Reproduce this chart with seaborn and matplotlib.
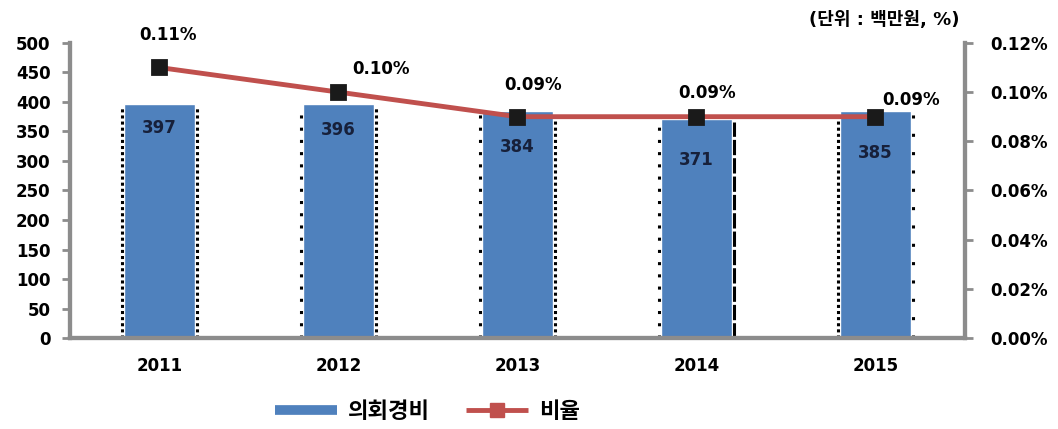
import pandas as pd
import numpy as np
import matplotlib
matplotlib.use('Agg')
import matplotlib.pyplot as plt
import seaborn as sns
from matplotlib.lines import Line2D

years = ['2011', '2012', '2013', '2014', '2015']
expense = [397, 396, 384, 371, 385]
ratio = [0.11, 0.10, 0.09, 0.09, 0.09]
ratio_labels = ['0.11%', '0.10%', '0.09%', '0.09%', '0.09%']

df = pd.DataFrame({'year': years, 'expense': expense, 'ratio': ratio})

sns.set_style('white')
plt.rcParams['font.family'] = ['DejaVu Sans', 'Noto Sans CJK KR']
plt.rcParams['font.weight'] = 'bold'
plt.rcParams['text.color'] = 'black'

bar_color = '#4f81bd'
line_color = '#c0504d'
axis_gray = '#8c8c8c'

fig = plt.figure(figsize=(10.58, 4.29), dpi=100)
ax = fig.add_axes([0.066, 0.212, 0.846, 0.688])

sns.barplot(data=df, x='year', y='expense', color=bar_color, width=0.4,
            saturation=1, ax=ax)
ax.set_xlim(-0.5, 4.5)
ax.set_ylim(0, 500)
ax.set_yticks(range(0, 501, 50))
ax.set_xlabel('')
ax.set_ylabel('')

# dotted bar sides (as in the source image)
side_styles = [((0, (1, 1)), (0, (1, 1))), ((0, (1, 3)), (0, (1, 1))),
               ((0, (1, 3)), (0, (1, 1))), ((0, (1, 3)), (0, (5, 1))),
               ((0, (1, 1)), (0, (1, 5)))]
for i, v in enumerate(expense):
    ls_l, ls_r = side_styles[i]
    ax.vlines(i - 0.21, 0, v - 5, colors='black', linestyles=[ls_l], lw=2.2)
    ax.vlines(i + 0.21, 0, v - 5, colors='black', linestyles=[ls_r], lw=2.2)

label_drop = [41, 44, 60, 69, 71]
for i, v in enumerate(expense):
    ax.text(i, v - label_drop[i], str(v), ha='center', va='center', fontsize=12,
            fontweight='bold', color='#17203a')

ax2 = ax.twinx()
sns.pointplot(data=df, x='year', y='ratio', color=line_color, markers='s',
              linestyles='-', ax=ax2)
for ln in ax2.lines:
    ln.set_linewidth(3.5)
    ln.set_markersize(10)
    ln.set_markerfacecolor('#1a1a1a')
    ln.set_markeredgecolor('#1a1a1a')
ax2.set_ylim(0, 0.12)
ax2.set_yticks(np.arange(0, 0.121, 0.02))
ax2.set_yticklabels([f'{t:.2f}%' for t in np.arange(0, 0.121, 0.02)])
ax2.set_ylabel('')
ax2.set_xlim(-0.5, 4.5)

offsets = [(0.047, 0.0133), (0.24, 0.0094), (0.09, 0.0129),
           (0.06, 0.0097), (0.20, 0.0068)]
for i, (r, lab) in enumerate(zip(ratio, ratio_labels)):
    dx, dy = offsets[i]
    ax2.text(i + dx, r + dy, lab, ha='center', va='center', fontsize=12,
             fontweight='bold', color='black')

for a in (ax, ax2):
    a.spines['top'].set_visible(False)
    for s in ('left', 'right', 'bottom'):
        a.spines[s].set_color(axis_gray)
        a.spines[s].set_linewidth(3)
ax.tick_params(axis='y', colors=axis_gray, length=6, width=2, pad=8,
               labelcolor='black', labelsize=12)
ax2.tick_params(axis='y', colors=axis_gray, length=6, width=2, pad=12,
                labelcolor='black', labelsize=12)

ax.set_xticks([i - 0.5 for i in range(6)], minor=True)
ax.tick_params(axis='x', which='major', length=0, labelsize=12, pad=14,
               labelcolor='black')
ax.tick_params(axis='x', which='minor', length=6, width=2, color=axis_gray)
for lab in ax.get_xticklabels() + ax.get_yticklabels() + ax2.get_yticklabels():
    lab.set_fontweight('bold')

fig.text(0.907, 0.953, '(단위 : 백만원, %)', ha='right', va='center',
         fontsize=13, fontweight='bold', color='black')

handles = [Line2D([0], [0], color=bar_color, lw=7, solid_capstyle='butt',
                  label='의회경비'),
           Line2D([0], [0], color=line_color, lw=3.5, marker='s', markersize=10,
                  solid_capstyle='butt', label='비율')]
fig.legend(handles=handles, loc='center', bbox_to_anchor=(0.404, 0.04), ncol=2,
           frameon=False, handlelength=2.8, handletextpad=0.5,
           columnspacing=1.6, labelcolor='black',
           prop={'weight': 'bold', 'size': 16})

fig.savefig('out.png', dpi=100)
